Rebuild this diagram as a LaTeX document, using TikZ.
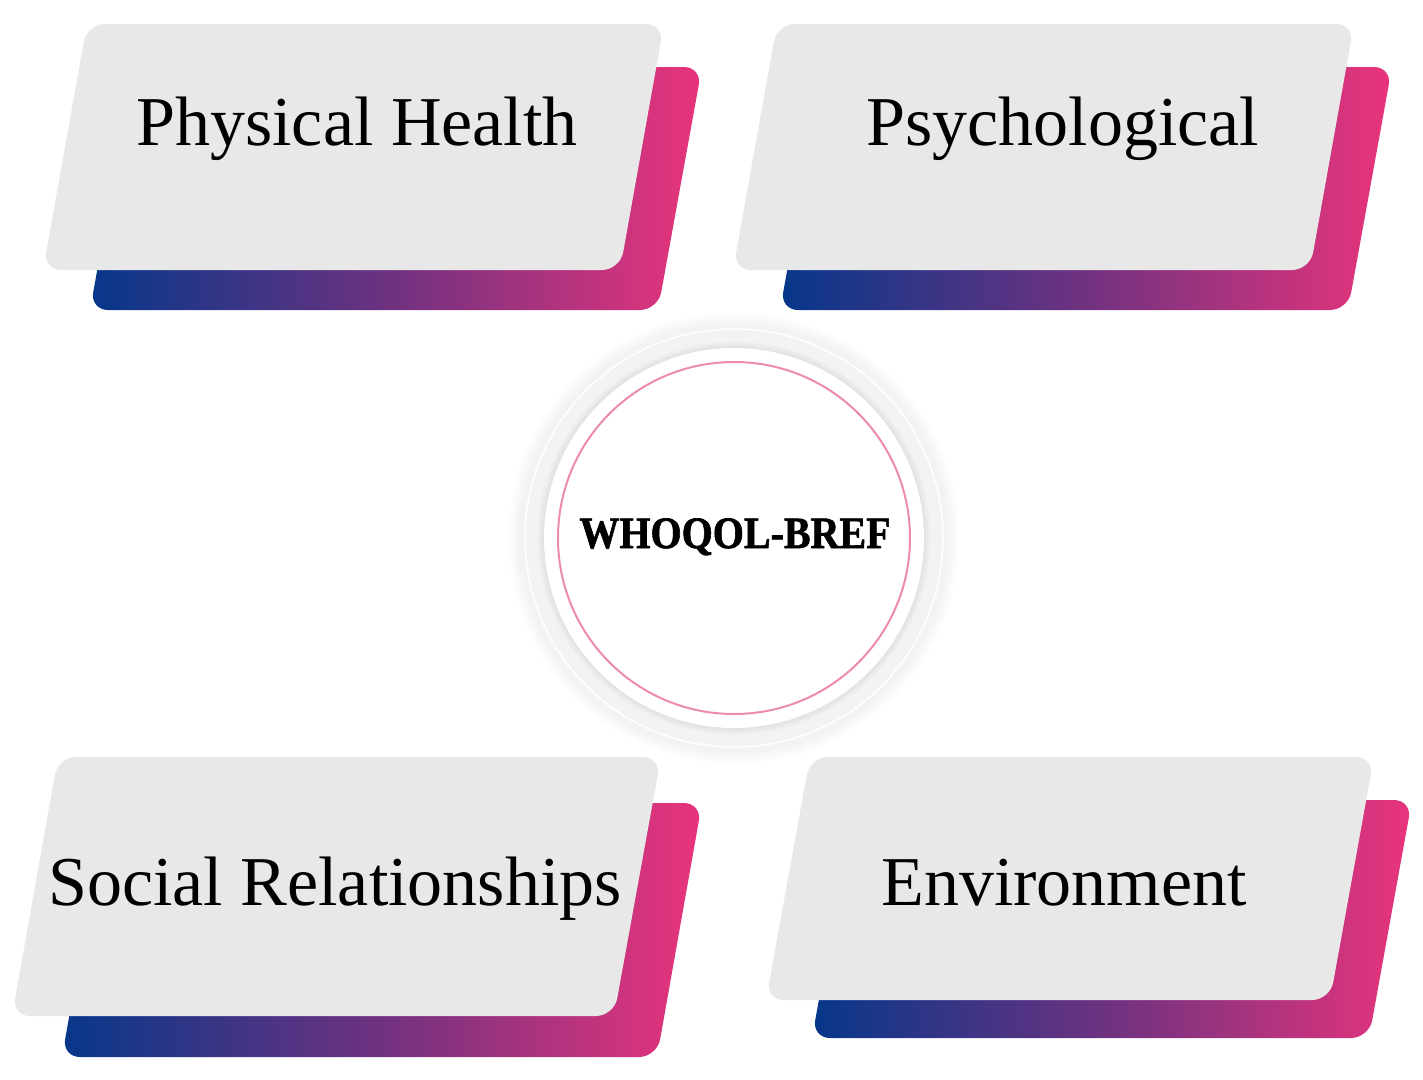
\documentclass[tikz,border=0pt]{standalone}
\usepackage{graphicx}
\usepackage{fontspec}
\setmainfont{Liberation Serif}
\newfontfamily\whofont{Liberation Serif Bold}[FakeBold=1.5]
\definecolor{cardgrey}{RGB}{232,232,232}
\definecolor{gblue}{RGB}{6,55,138}
\definecolor{gpurple}{RGB}{112,50,128}
\definecolor{gpink}{RGB}{234,52,124}
\definecolor{ringpink}{RGB}{236,140,168}
\definecolor{discgrey}{RGB}{243,243,243}
\tikzset{
  cardgrad/.style={left color=gblue, right color=gpink, middle color=gpurple, rounded corners=18pt},
  cardface/.style={fill=cardgrey, rounded corners=18pt},
  cardtext/.style={anchor=base, inner sep=0pt, font=\fontsize{70}{84}\selectfont},
}
\begin{document}
\begin{tikzpicture}[x=1pt,y=-1pt]
\useasboundingbox (0,0) rectangle (1423,1079);
% ---- Physical Health
\shade[cardgrad] (134,67) -- (702,67) -- (658,310) -- (90,310) -- cycle;
\fill[cardface] (87,24) -- (664,24) -- (620,270) -- (43,270) -- cycle;
\node[cardtext] (ph) at (357,145) {Physical Health};
% ---- Psychological
\shade[cardgrad] (824,67) -- (1392,67) -- (1348,310) -- (780,310) -- cycle;
\fill[cardface] (777,24) -- (1354,24) -- (1310,270) -- (733,270) -- cycle;
\node[cardtext] (ps) at (1063,145) {Psychological};
% ---- Social Relationships
\shade[cardgrad] (107,803) -- (702,803) -- (657,1057) -- (62,1057) -- cycle;
\fill[cardface] (58,757) -- (661,757) -- (614,1016) -- (12,1016) -- cycle;
\node[cardtext] (sr) at (335,905) {Social Relationships};
% ---- Environment
\shade[cardgrad] (855,800) -- (1412,800) -- (1369,1038) -- (812,1038) -- cycle;
\fill[cardface] (810,757) -- (1374,757) -- (1330,1000) -- (766,1000) -- cycle;
\node[cardtext] (en) at (1064,905) {Environment};
% ---- centre
\coordinate (C) at (734,538);
\foreach \i in {0,...,11}
  \fill[black,opacity=0.004,xshift=1pt,yshift=-2pt] (C) circle ({215+\i});
\fill[discgrey] (C) circle (215);
\draw[white,line width=1.5pt] (C) circle (209);
\foreach \i in {0,...,9}
  \fill[black,opacity=0.012,xshift=3pt,yshift=-6pt] (C) circle ({186+\i*1.2});
\fill[white] (C) circle (190);
\draw[ringpink,line width=2pt] (C) circle (176);
\node[anchor=base,inner sep=0pt] (who) at (735,548) {\whofont\fontsize{40}{48}\selectfont\scalebox{1}[1.12]{WHOQOL-BREF}};
\end{tikzpicture}
\end{document}
